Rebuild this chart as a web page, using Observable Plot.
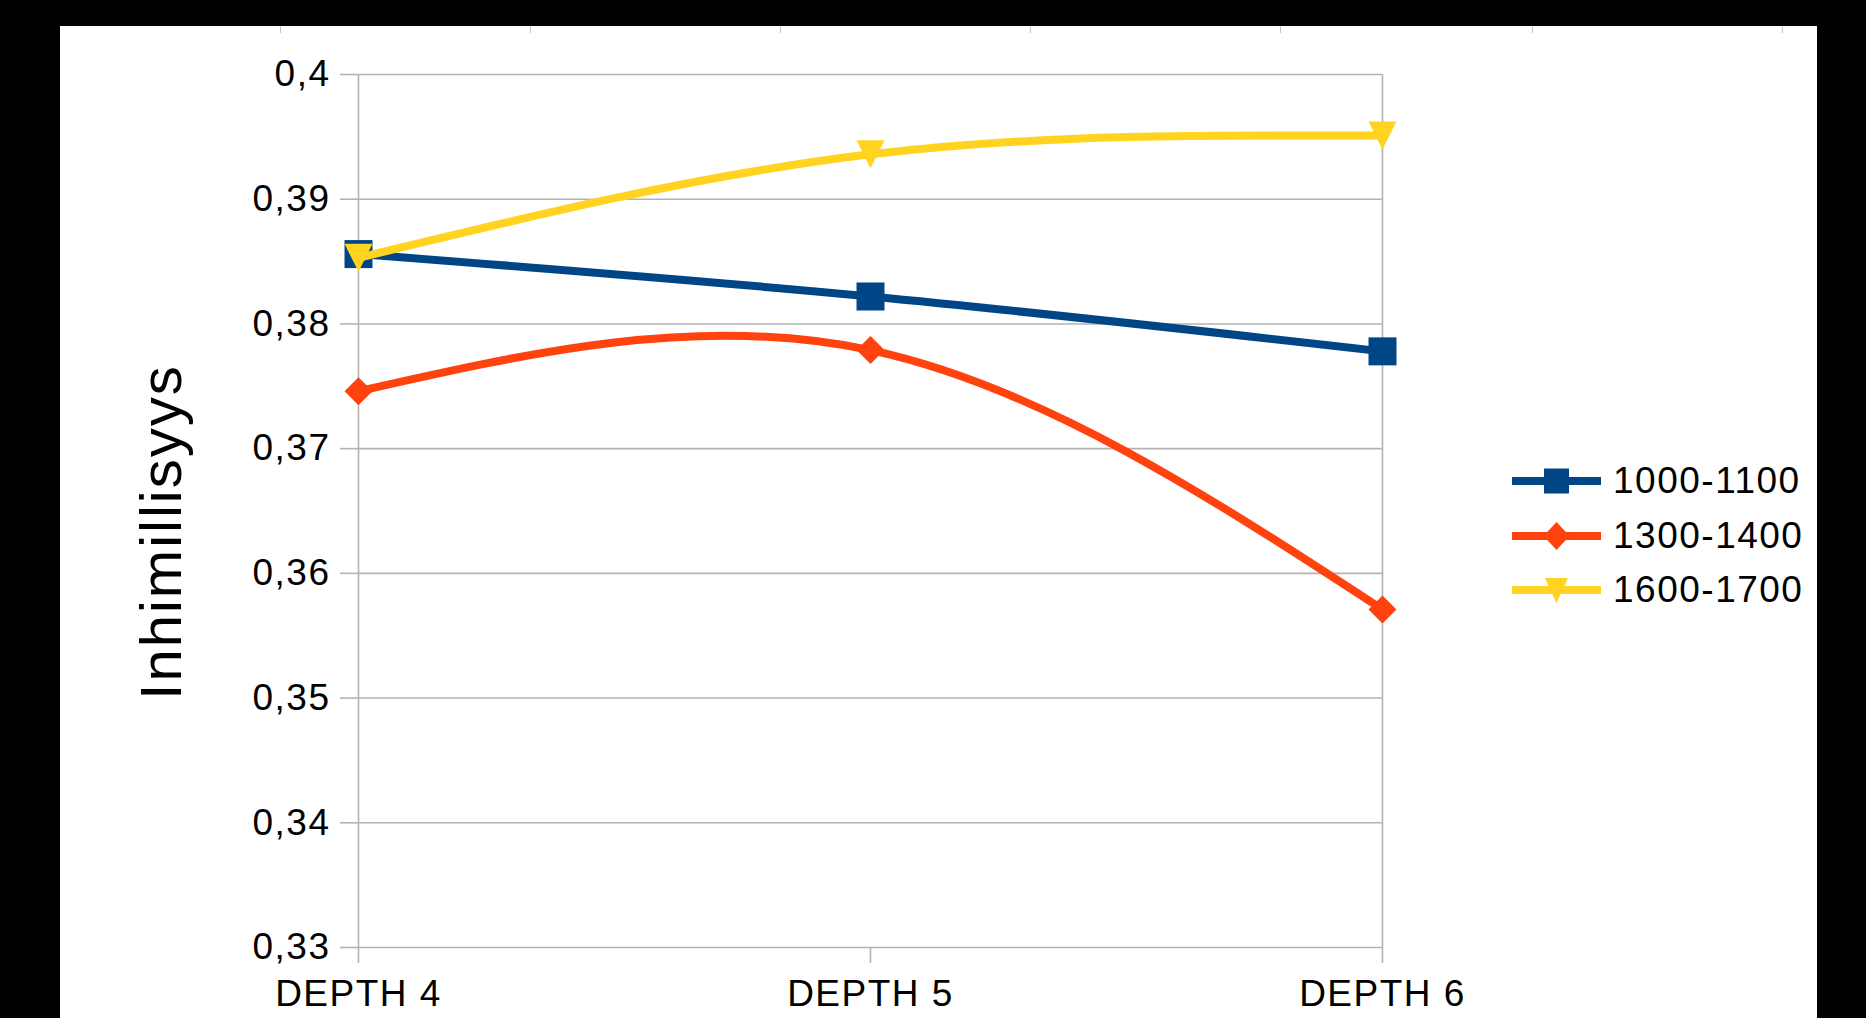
<!DOCTYPE html>
<html>
<head>
<meta charset="utf-8">
<script src="https://cdn.jsdelivr.net/npm/d3@7"></script>
<script src="https://cdn.jsdelivr.net/npm/@observablehq/plot@0.6"></script>
<style>
  html, body { margin: 0; padding: 0; background: #000; width: 1866px; height: 1018px; overflow: hidden; }
  #sheet { position: absolute; left: 60px; top: 26px; width: 1757px; height: 992px; background: #fff; }
  .ruler { position: absolute; top: 26px; width: 1px; height: 7px; background: #c8c8c8; }
  #chart { position: absolute; left: 0; top: 0; }
  #chart svg text { letter-spacing: 1.5px; }
  #chart svg text.ytitle, #chart svg .ytitle text { letter-spacing: 2px; }
  #legend { position: absolute; left: 1512px; top: 454px; font-family: "Liberation Sans", Arial, sans-serif; font-size: 37px; letter-spacing: 1.5px; color: #000; }
  .row { display: flex; align-items: center; height: 54.5px; }
  .row svg { margin-right: 12px; }
</style>
</head>
<body>
<div id="sheet"></div>
<div id="chart"></div>
<div id="legend"></div>
<script>
// ---- data ----
const categories = ["DEPTH 4", "DEPTH 5", "DEPTH 6"];
const seriesNames = ["1000-1100", "1300-1400", "1600-1700"];
const values1000 = [0.3856, 0.3822, 0.3778];
const values1300 = [0.3746, 0.3779, 0.3571];
const values1600 = [0.3853, 0.3936, 0.3951];
const yTicks = [0.33, 0.34, 0.35, 0.36, 0.37, 0.38, 0.39, 0.40];
const yTitle = "Inhimillisyys";

// ---- styles ----
const colors = ["#004586", "#ff420e", "#ffd320"];
const font = "'Liberation Sans', Arial, sans-serif";

// ruler marks on the sheet edge
[280, 530, 780, 1030, 1280, 1532, 1782].forEach(x => {
  const d = document.createElement("div"); d.className = "ruler"; d.style.left = x + "px"; document.body.appendChild(d);
});

// custom symbols (fixed pixel sizes)
const sq = (h) => ({draw(c) { c.rect(-h, -h, 2 * h, 2 * h); }});
const dia = (h) => ({draw(c) { c.moveTo(0, -h); c.lineTo(h, 0); c.lineTo(0, h); c.lineTo(-h, 0); c.closePath(); }});
const triDown = (w, h) => ({draw(c) { c.moveTo(-w, -h); c.lineTo(w, -h); c.lineTo(0, h); c.closePath(); }});
const symbols = [sq(14), dia(14), triDown(14, 14)];

const valueSets = [values1000, values1300, values1600];
const data = valueSets.map((vals, s) => categories.map((c, i) => ({series: seriesNames[s], cat: c, v: vals[i]})));

const fmt = d => String(+d.toFixed(2)).replace(".", ",");

const marks = [
  Plot.gridY(yTicks, {stroke: "#b3b3b3", strokeOpacity: 1, strokeWidth: 1.6}),
  Plot.ruleX([categories[0], categories[categories.length - 1]], {stroke: "#b3b3b3", strokeWidth: 1.6}),
  Plot.axisY(yTicks, {tickFormat: fmt, tickSize: 17, tickPadding: 10, fontSize: 37, stroke: "#b3b3b3", strokeWidth: 1.6, fill: "#000", label: null}),
  Plot.axisX({tickSize: 16, tickPadding: 16, fontSize: 37, stroke: "#b3b3b3", strokeWidth: 1.6, fill: "#000", label: null}),
  Plot.text([yTitle], {frameAnchor: "left", rotate: -90, dx: -195, dy: 21, fontSize: 58, fill: "#000", textAnchor: "middle", lineAnchor: "middle", className: "ytitle"})
];
data.forEach((d, s) => {
  marks.push(Plot.line(d, {x: "cat", y: "v", stroke: colors[s], strokeWidth: 8, curve: "natural"}));
  marks.push(Plot.dot(d, {x: "cat", y: "v", symbol: symbols[s], r: 14, fill: colors[s], stroke: "none"}));
});

const chart = Plot.plot({
  width: 1866,
  height: 1018,
  marginLeft: 357,
  marginRight: 484,
  marginTop: 74,
  marginBottom: 71,
  style: {background: "transparent", fontFamily: font, color: "#000", overflow: "visible"},
  x: {type: "point", domain: categories, padding: 0, label: null},
  y: {domain: [0.33, 0.40], label: null},
  marks
});
document.getElementById("chart").appendChild(chart);

// legend
const legend = document.getElementById("legend");
const legSyms = [
  (col) => `<rect x="32" y="2.5" width="25" height="25" fill="${col}"/>`,
  (col) => `<path d="M44.5,1 L57.5,15 L44.5,29 L31.5,15Z" fill="${col}"/>`,
  (col) => `<path d="M33,3 L56,3 L44.5,28Z" fill="${col}"/>`
];
seriesNames.forEach((name, s) => {
  const row = document.createElement("div");
  row.className = "row";
  row.innerHTML = `<svg width="89" height="30"><line x1="0" x2="89" y1="15" y2="15" stroke="${colors[s]}" stroke-width="8"/>${legSyms[s](colors[s])}</svg><span>${name}</span>`;
  legend.appendChild(row);
});
</script>
</body>
</html>
